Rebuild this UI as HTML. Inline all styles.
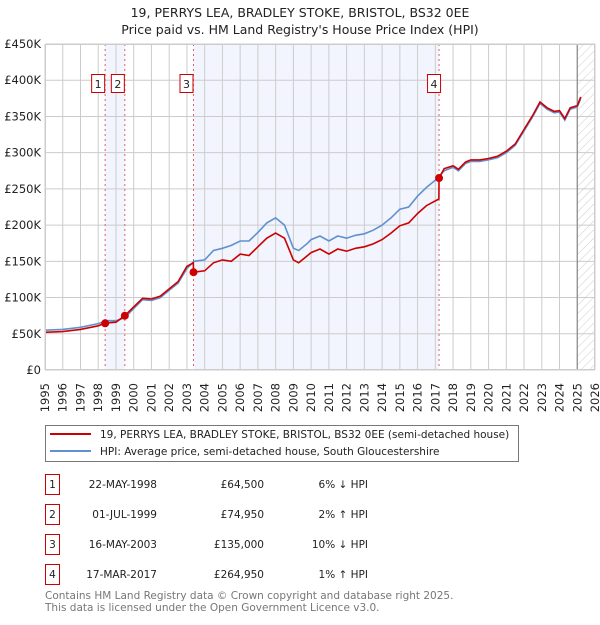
<!DOCTYPE html>
<html><head><meta charset="utf-8"><style>
body{margin:0;background:#fff;font-family:"Liberation Sans","DejaVu Sans",sans-serif;}
svg text{font-family:"DejaVu Sans","Liberation Sans",sans-serif;}
</style></head><body>
<svg id="c" width="600" height="620" viewBox="0 0 600 620">
<defs><pattern id="hatch" width="6" height="6" patternUnits="userSpaceOnUse" patternTransform="rotate(45)"><line x1="0" y1="0" x2="0" y2="6" stroke="#ccc" stroke-width="1"/></pattern></defs>
<text x="300" y="17" text-anchor="middle" font-size="12.5" fill="#222">19, PERRYS LEA, BRADLEY STOKE, BRISTOL, BS32 0EE</text>
<text x="300" y="34" text-anchor="middle" font-size="12.5" fill="#222">Price paid vs. HM Land Registry's House Price Index (HPI)</text>
<g id="plot"></g>
<g>
<rect x="45.5" y="425.5" width="473" height="36" fill="#fff" stroke="#777"/>
<line x1="50" y1="434" x2="91" y2="434" stroke="#cc0000" stroke-width="2"/>
<text x="100" y="438" font-size="10.5" fill="#222">19, PERRYS LEA, BRADLEY STOKE, BRISTOL, BS32 0EE (semi-detached house)</text>
<line x1="50" y1="451" x2="91" y2="451" stroke="#6090d0" stroke-width="2"/>
<text x="100" y="455" font-size="10.5" fill="#222">HPI: Average price, semi-detached house, South Gloucestershire</text>
</g>
<g id="table" font-size="10.5" fill="#222"></g>
<text x="45" y="599" font-size="10.5" fill="#777">Contains HM Land Registry data © Crown copyright and database right 2025.</text>
<text x="45" y="611" font-size="10.5" fill="#777">This data is licensed under the Open Government Licence v3.0.</text>
</svg>
<script>
const yearTicks=[1995,1996,1997,1998,1999,2000,2001,2002,2003,2004,2005,2006,2007,2008,2009,2010,2011,2012,2013,2014,2015,2016,2017,2018,2019,2020,2021,2022,2023,2024,2025,2026];
const priceTicks=[0,50,100,150,200,250,300,350,400,450];
const priceTickLabels=["£0","£50K","£100K","£150K","£200K","£250K","£300K","£350K","£400K","£450K"];
const hpiX=[1995,1996,1997,1998,1998.5,1999,1999.5,2000,2000.5,2001,2001.5,2002,2002.5,2003,2003.4,2004,2004.5,2005,2005.5,2006,2006.5,2007,2007.5,2008,2008.5,2009,2009.3,2009.8,2010,2010.5,2011,2011.5,2012,2012.5,2013,2013.5,2014,2014.5,2015,2015.5,2016,2016.5,2017,2017.5,2018,2018.3,2018.7,2019,2019.5,2020,2020.5,2021,2021.5,2022,2022.5,2022.9,2023.3,2023.7,2024,2024.3,2024.6,2025,2025.2];
const hpiY=[55,56,59,64,68,68,72,85,97,96,100,110,120,140,150,152,165,168,172,178,178,190,203,210,200,168,165,175,180,185,178,185,182,186,188,193,200,210,222,225,240,252,262,275,280,275,285,288,288,290,293,300,310,330,350,368,360,355,356,345,360,363,375];
const redX=[1995,1996,1997,1998,1998.39,1998.5,1999,1999.5,2000,2000.5,2001,2001.5,2002,2002.5,2003,2003.36,2003.37,2004,2004.5,2005,2005.5,2006,2006.5,2007,2007.5,2008,2008.5,2009,2009.3,2009.8,2010,2010.5,2011,2011.5,2012,2012.5,2013,2013.5,2014,2014.5,2015,2015.5,2016,2016.5,2017.2,2017.21,2017.5,2018,2018.3,2018.7,2019,2019.5,2020,2020.5,2021,2021.5,2022,2022.5,2022.9,2023.3,2023.7,2024,2024.3,2024.6,2025,2025.2];
const redY=[52,53,56,61,64.5,65,66,75,87,99,98,102,112,122,143,148,135,137,148,152,150,160,158,170,182,189,182,152,148,158,162,167,160,167,164,168,170,174,180,189,199,203,216,227,236,264.95,278,282,277,287,290,290,292,295,302,312,332,352,370,362,357,358,347,362,365,377];
const saleNum=["1","2","3","4"];
const saleX=[1998.39,1999.5,2003.37,2017.21];
const saleY=[64.5,74.95,135,264.95];
const saleDate=["22-MAY-1998","01-JUL-1999","16-MAY-2003","17-MAR-2017"];
const salePrice=["£64,500","£74,950","£135,000","£264,950"];
const saleHpi=["6% ↓ HPI","2% ↑ HPI","10% ↓ HPI","1% ↑ HPI"];

const NS="http://www.w3.org/2000/svg";
const X0=45,X1=595,Y0=370,Y1=44;
const xs=y=>X0+(y-1995)/(2026-1995)*(X1-X0);
const ys=v=>Y0-v/450*(Y0-Y1);
const plot=document.getElementById('plot');
function mk(tag,attrs,parent){const e=document.createElementNS(NS,tag);for(const k in attrs)e.setAttribute(k,attrs[k]);(parent||plot).appendChild(e);return e;}
let e;
e=mk('rect',{x:X0,y:Y1,width:X1-X0,height:Y0-Y1,fill:'#fff'});


e=mk('rect',{x:xs(saleX[0]),y:Y1,width:xs(saleX[1])-xs(saleX[0]),height:Y0-Y1,fill:'#f2f5fd'});


e=mk('rect',{x:xs(saleX[2]),y:Y1,width:xs(saleX[3])-xs(saleX[2]),height:Y0-Y1,fill:'#f2f5fd'});


e=mk('rect',{x:xs(2025),y:Y1,width:X1-xs(2025),height:Y0-Y1,fill:'url(#hatch)'});


yearTicks.forEach(t=>{e=mk('line',{x1:xs(t),x2:xs(t),y1:Y1,y2:Y0,stroke:'#ccc','stroke-width':1});


const tx=xs(t)+4,ty=383;
e=mk('text',{x:tx,y:ty,'text-anchor':'end','font-size':11.5,fill:'#222',transform:`rotate(-90 ${tx} ${ty})`});e.textContent=t;

});
priceTicks.forEach((t,i)=>{e=mk('line',{x1:X0,x2:X1,y1:ys(t),y2:ys(t),stroke:'#ccc','stroke-width':1});


e=mk('text',{x:X0-4,y:ys(t)+4,'text-anchor':'end','font-size':11.5,fill:'#222'});e.textContent=priceTickLabels[i];

});
e=mk('line',{x1:xs(2025),x2:xs(2025),y1:Y1,y2:Y0,stroke:'#888','stroke-width':1.2});


saleX.forEach((s,i)=>{e=mk('line',{x1:xs(s),x2:xs(s),y1:Y1,y2:Y0,stroke:'#e06060','stroke-width':1,'stroke-dasharray':'2,3'});

});
function path(X,Y){return X.map((x,i)=>(i?'L':'M')+xs(x).toFixed(1)+','+ys(Y[i]).toFixed(1)).join('');}
e=mk('path',{d:path(hpiX,hpiY),fill:'none',stroke:'#6090d0','stroke-width':1.6});


e=mk('path',{d:path(redX,redY),fill:'none',stroke:'#cc0000','stroke-width':1.6});


saleX.forEach((s,i)=>{e=mk('circle',{cx:xs(s),cy:ys(saleY[i]),r:4,fill:'#cc0000'});


const bx=xs(s)-(i==3?12:14);
e=mk('rect',{x:bx+0.5,y:74.5,width:13,height:18,fill:'#fff',stroke:'#cc0000'});


e=mk('text',{x:bx+7,y:88,'text-anchor':'middle','font-size':11,fill:'#222'});e.textContent=saleNum[i];

});
e=mk('rect',{x:X0+0.5,y:Y1+0.5,width:X1-X0-1,height:Y0-Y1-1,fill:'none',stroke:'#ccc'});


const tb=document.getElementById('table');
saleNum.forEach((n,i)=>{const cy=483+i*30;
e=mk('rect',{x:45.5,y:cy-8.5,width:14,height:20,fill:'#fff',stroke:'#cc0000'},tb);


e=mk('text',{x:52.5,y:cy+5,'text-anchor':'middle'},tb);e.textContent=n;


e=mk('text',{x:157,y:cy+5,'text-anchor':'end'},tb);e.textContent=saleDate[i];


e=mk('text',{x:264,y:cy+5,'text-anchor':'end'},tb);e.textContent=salePrice[i];


e=mk('text',{x:368,y:cy+5,'text-anchor':'end'},tb);e.textContent=saleHpi[i];

});
</script>
</body></html>
